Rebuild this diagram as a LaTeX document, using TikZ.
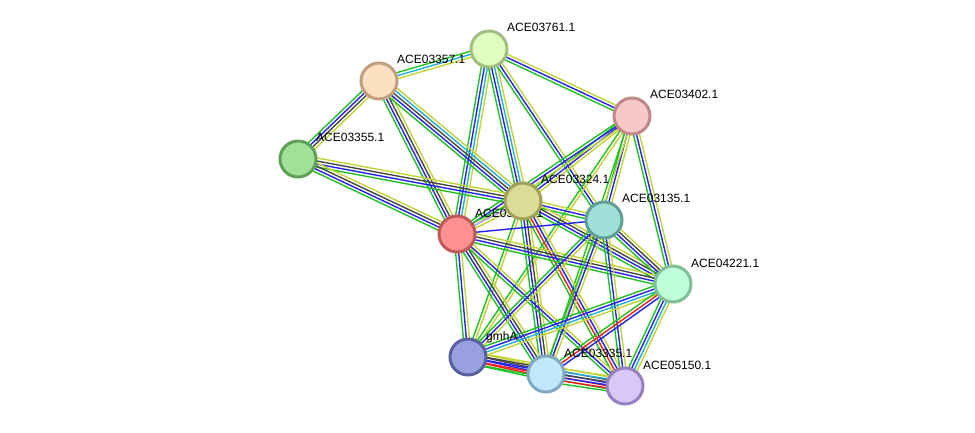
\documentclass[tikz,border=0pt]{standalone}
\usepackage{fontspec}
\setmainfont{Liberation Sans}
\usetikzlibrary{calc}
\pgfdeclarelayer{back}
\pgfdeclarelayer{bg}
\pgfsetlayers{back,bg,main}
\definecolor{eg}{HTML}{22C122}
\definecolor{eb}{HTML}{2424F2}
\definecolor{ek}{HTML}{484848}
\definecolor{ec}{HTML}{22B2D6}
\definecolor{ey}{HTML}{C4D434}
\definecolor{er}{HTML}{F02020}
\definecolor{el}{HTML}{A8A8FF}
\definecolor{fR}{HTML}{FE9090}\definecolor{dR}{HTML}{C05A5A}
\definecolor{fA}{HTML}{E0FEC0}\definecolor{dA}{HTML}{A2BE80}
\definecolor{fB}{HTML}{FDE0C2}\definecolor{dB}{HTML}{C0A080}
\definecolor{fC}{HTML}{F8C8C8}\definecolor{dC}{HTML}{C08888}
\definecolor{fD}{HTML}{A0E098}\definecolor{dD}{HTML}{60A058}
\definecolor{fE}{HTML}{DCDC98}\definecolor{dE}{HTML}{A0A058}
\definecolor{fF}{HTML}{A0E0D8}\definecolor{dF}{HTML}{60A098}
\definecolor{fG}{HTML}{C0FED8}\definecolor{dG}{HTML}{80C098}
\definecolor{fH}{HTML}{98A0E0}\definecolor{dH}{HTML}{5860A0}
\definecolor{fI}{HTML}{C0E8FC}\definecolor{dI}{HTML}{80A8C0}
\definecolor{fJ}{HTML}{D8C8F8}\definecolor{dJ}{HTML}{9880C0}
\newcommand{\sedge}[4]{%
  \foreach \c [count=\i] in {#4} {%
    \pgfmathsetmacro\off{(\i-(#3+1)/2)*3.0}%
    \draw[edgeline, draw=\c] ($(#1)!\off pt!90:(#2)$) -- ($(#2)!\off pt!-90:(#1)$);
  }}
\tikzset{
  prot/.style={circle, minimum size=36pt, inner sep=0pt, line width=3pt},
  edgeline/.style={line width=1.4pt},
  lab/.style={anchor=base west, inner sep=0pt, font=\fontsize{12}{14}\selectfont, text=black}
}
\begin{document}
\begin{tikzpicture}[x=1pt,y=-1pt]
\begin{pgfonlayer}{back}
\fill[white] (0,0) rectangle (975,433);
\end{pgfonlayer}
\useasboundingbox (0,0) rectangle (975,433);
% node positions
\coordinate (pA) at (489,49);
\coordinate (pB) at (379,81);
\coordinate (pC) at (632,116);
\coordinate (pD) at (298,159);
\coordinate (pE) at (523,201);
\coordinate (pF) at (604,220);
\coordinate (pR) at (457,234);
\coordinate (pG) at (673,284);
\coordinate (pH) at (468,357);
\coordinate (pI) at (546,374);
\coordinate (pJ) at (625,386);
% edges
\begin{pgfonlayer}{bg}
\sedge{pA}{pB}{3}{eg,ec,ey}
\sedge{pA}{pC}{3}{eg,eb,ey}
\sedge{pA}{pR}{4}{eg,eb,ec,ey}
\sedge{pA}{pE}{4}{eg,eb,ec,ey}
\sedge{pA}{pF}{3}{eg,eb,ey}
\sedge{pB}{pD}{4}{eg,eb,ek,ey}
\sedge{pB}{pR}{4}{eg,eb,ek,ey}
\sedge{pB}{pE}{5}{eg,eb,ek,ec,ey}
\sedge{pD}{pE}{4}{eg,eb,ek,ey}
\sedge{pD}{pR}{4}{eg,eb,ek,ey}
\sedge{pC}{pE}{3}{eg,eb,ey}
\sedge{pC}{pR}{3}{eg,eb,ey}
\sedge{pC}{pF}{3}{eg,eb,ey}
\sedge{pC}{pG}{3}{eg,eb,ey}
\sedge{pC}{pH}{2}{eg,ey}
\sedge{pC}{pI}{2}{eg,ey}
\sedge{pE}{pR}{3}{eg,el,ey}
\sedge{pE}{pF}{3}{eg,eb,ey}
\sedge{pE}{pG}{4}{eg,eb,ek,ey}
\sedge{pE}{pH}{2}{eg,ey}
\sedge{pE}{pI}{4}{eg,eb,ek,ey}
\sedge{pE}{pJ}{4}{eg,er,eb,ey}
\sedge{pR}{pF}{1}{eb}
\sedge{pR}{pG}{4}{eg,eb,ek,ey}
\sedge{pR}{pH}{3}{eg,eb,ey}
\sedge{pR}{pI}{4}{eg,eb,ek,ey}
\sedge{pR}{pJ}{3}{eg,eb,ey}
\sedge{pF}{pG}{4}{eg,eb,ek,ey}
\sedge{pF}{pH}{3}{eg,eb,ey}
\sedge{pF}{pI}{3}{eg,eb,ey}
\sedge{pF}{pJ}{3}{eg,eb,ey}
\sedge{pG}{pH}{4}{eg,eb,ec,ey}
\sedge{pG}{pI}{3}{eg,er,eb}
\sedge{pG}{pJ}{4}{eg,eb,ec,ey}
\sedge{pH}{pI}{5}{eg,er,eb,ek,ey}
\sedge{pH}{pJ}{5}{eg,er,eb,ek,ey}
\sedge{pI}{pJ}{6}{eg,er,eb,ek,ec,ey}
\end{pgfonlayer}
% label that lies under a node
\node[lab] (lR) at ($(pR)+(18,-17)$) {ACE03325.1};
% nodes
\node[prot, fill=fR, draw=dR] (R) at (pR) {};
\node[prot, fill=fA, draw=dA] (A) at (pA) {};
\node[prot, fill=fB, draw=dB] (B) at (pB) {};
\node[prot, fill=fC, draw=dC] (C) at (pC) {};
\node[prot, fill=fD, draw=dD] (D) at (pD) {};
\node[prot, fill=fE, draw=dE] (E) at (pE) {};
\node[prot, fill=fF, draw=dF] (F) at (pF) {};
\node[prot, fill=fG, draw=dG] (G) at (pG) {};
\node[prot, fill=fH, draw=dH] (H) at (pH) {};
\node[prot, fill=fI, draw=dI] (I) at (pI) {};
\node[prot, fill=fJ, draw=dJ] (J) at (pJ) {};
% labels
\node[lab] (lA) at ($(pA)+(18,-17)$) {ACE03761.1};
\node[lab] (lB) at ($(pB)+(18,-17)$) {ACE03357.1};
\node[lab] (lC) at ($(pC)+(18,-17)$) {ACE03402.1};
\node[lab] (lD) at ($(pD)+(18,-17)$) {ACE03355.1};
\node[lab] (lE) at ($(pE)+(18,-17)$) {ACE03324.1};
\node[lab] (lF) at ($(pF)+(18,-17)$) {ACE03135.1};
\node[lab] (lG) at ($(pG)+(18,-17)$) {ACE04221.1};
\node[lab] (lH) at ($(pH)+(18,-17)$) {gmhA};
\node[lab] (lI) at ($(pI)+(18,-17)$) {ACE03335.1};
\node[lab] (lJ) at ($(pJ)+(18,-17)$) {ACE05150.1};
\end{tikzpicture}
\end{document}
